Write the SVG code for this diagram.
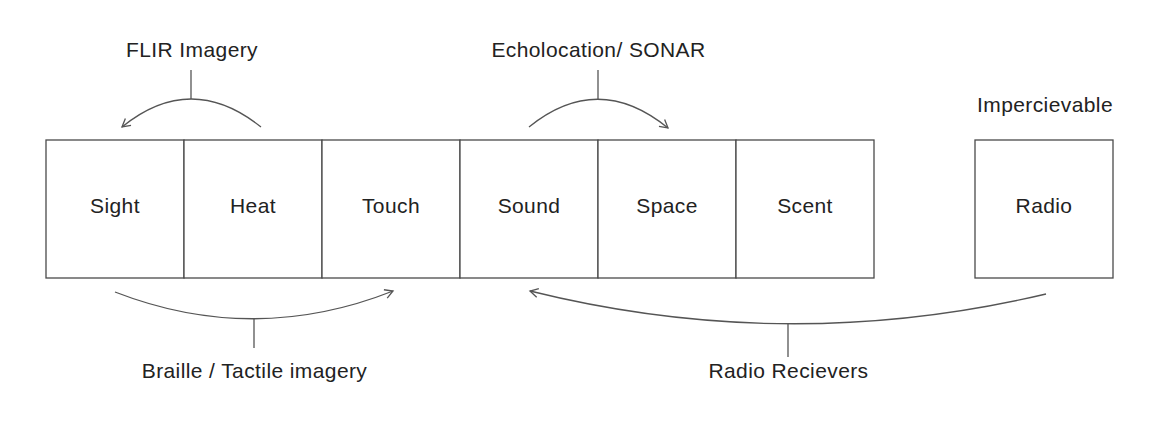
<svg xmlns="http://www.w3.org/2000/svg" width="1162" height="422" viewBox="0 0 1162 422">
<style>
.box{fill:#fff;stroke:#4a4a4a;stroke-width:1.3}
.lbl{font-family:"Liberation Sans",Arial,sans-serif;font-size:21px;letter-spacing:0.4px;fill:#222;text-anchor:middle}
.arc{fill:none;stroke:#555;stroke-width:1.3}
</style>
<defs>
<marker id="arr" viewBox="-10 -6 12 12" markerWidth="12" markerHeight="12" refX="0" refY="0" orient="auto" markerUnits="userSpaceOnUse">
<path d="M-8,-4.5 L0,0 L-8,4.5" fill="none" stroke="#555" stroke-width="1.3"/>
</marker>
</defs>
<rect width="1162" height="422" fill="#fff"/>
<g id="sight"><rect class="box" x="46" y="140" width="138" height="138"/><text class="lbl" x="115" y="213">Sight</text></g>
<g id="heat"><rect class="box" x="184" y="140" width="138" height="138"/><text class="lbl" x="253" y="213">Heat</text></g>
<g id="touch"><rect class="box" x="322" y="140" width="138" height="138"/><text class="lbl" x="391" y="213">Touch</text></g>
<g id="sound"><rect class="box" x="460" y="140" width="138" height="138"/><text class="lbl" x="529" y="213">Sound</text></g>
<g id="space"><rect class="box" x="598" y="140" width="138" height="138"/><text class="lbl" x="667" y="213">Space</text></g>
<g id="scent"><rect class="box" x="736" y="140" width="138" height="138"/><text class="lbl" x="805" y="213">Scent</text></g>
<g id="radio"><rect class="box" x="975" y="140" width="138" height="138"/><text class="lbl" x="1044" y="213">Radio</text></g>
<g id="impercievable"><text class="lbl" x="1045" y="112">Impercievable</text></g>
<g id="connectors">
<path class="arc" d="M261,127 Q191,71 122,127" marker-end="url(#arr)"/>
<line class="arc" x1="191" y1="70" x2="191" y2="99"/>
<text class="lbl" x="192" y="57">FLIR Imagery</text>
<path class="arc" d="M529,127 Q598,71 668,128" marker-end="url(#arr)"/>
<line class="arc" x1="598" y1="70" x2="598" y2="99"/>
<text class="lbl" x="598.5" y="57">Echolocation/ SONAR</text>
<path class="arc" d="M115,292 Q254,346 393,291" marker-end="url(#arr)"/>
<line class="arc" x1="254" y1="319" x2="254" y2="348"/>
<text class="lbl" x="254.5" y="378">Braille / Tactile imagery</text>
<path class="arc" d="M1046,294 Q788,355 530,291" marker-end="url(#arr)"/>
<line class="arc" x1="788" y1="324" x2="788" y2="357"/>
<text class="lbl" x="788.5" y="378">Radio Recievers</text>
</g>
</svg>
